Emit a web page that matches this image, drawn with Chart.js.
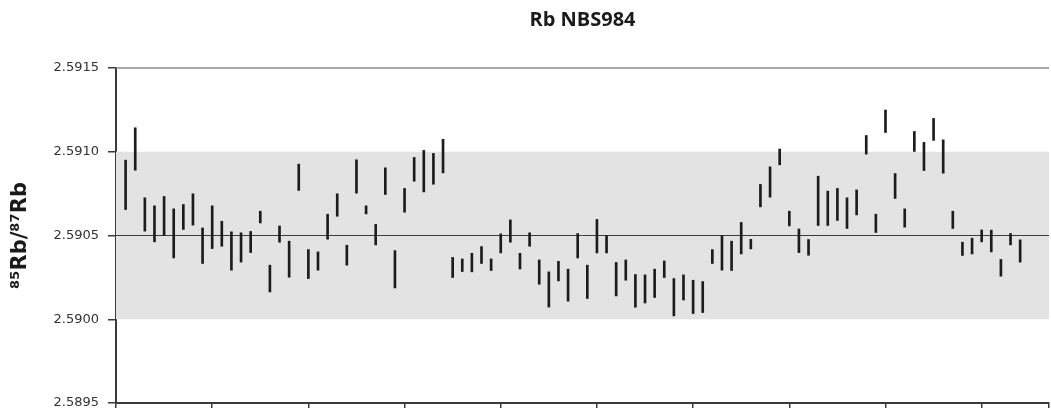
<!DOCTYPE html>
<html>
<head>
<meta charset="utf-8">
<script src="https://cdn.jsdelivr.net/npm/chart.js@4"></script>
<style>
  body { margin: 0; background: #fff; }
  canvas { display: block; }
</style>
</head>
<body>
<canvas id="ratioChart" width="1051" height="408"></canvas>
<script>
// 85Rb/87Rb measurements, each run drawn as a lower..upper error bar
var lows = [
    2.590655, 2.590890, 2.590526, 2.590462, 2.590502, 2.590366, 2.590536, 2.590562, 2.590333, 2.590422,
    2.590436, 2.590293, 2.590341, 2.590398, 2.590575, 2.590163, 2.590460, 2.590251, 2.590769, 2.590243,
    2.590293, 2.590478, 2.590615, 2.590323, 2.590753, 2.590629, 2.590444, 2.590745, 2.590187, 2.590639,
    2.590824, 2.590760, 2.590806, 2.590874, 2.590249, 2.590285, 2.590283, 2.590333, 2.590291, 2.590396,
    2.590460, 2.590300, 2.590436, 2.590209, 2.590073, 2.590229, 2.590108, 2.590366, 2.590124, 2.590396,
    2.590396, 2.590139, 2.590233, 2.590072, 2.590097, 2.590130, 2.590249, 2.590020, 2.590115, 2.590034,
    2.590040, 2.590333, 2.590293, 2.590291, 2.590390, 2.590420, 2.590671, 2.590729, 2.590922, 2.590557,
    2.590398, 2.590382, 2.590560, 2.590560, 2.590590, 2.590542, 2.590623, 2.590986, 2.590518, 2.591115,
    2.590721, 2.590550, 2.591002, 2.590888, 2.591068, 2.590872, 2.590542, 2.590381, 2.590390, 2.590462,
    2.590402, 2.590257, 2.590444, 2.590341
];
var highs = [
    2.590950, 2.591143, 2.590725, 2.590677, 2.590733, 2.590659, 2.590685, 2.590749, 2.590545, 2.590677,
    2.590585, 2.590522, 2.590516, 2.590524, 2.590645, 2.590323, 2.590557, 2.590466, 2.590926, 2.590416,
    2.590402, 2.590627, 2.590749, 2.590442, 2.590952, 2.590677, 2.590566, 2.590904, 2.590410, 2.590781,
    2.590966, 2.591008, 2.590990, 2.591074, 2.590369, 2.590360, 2.590394, 2.590434, 2.590360, 2.590510,
    2.590593, 2.590394, 2.590516, 2.590354, 2.590283, 2.590346, 2.590299, 2.590512, 2.590323, 2.590596,
    2.590500, 2.590339, 2.590354, 2.590267, 2.590265, 2.590299, 2.590348, 2.590243, 2.590265, 2.590233,
    2.590225, 2.590416, 2.590500, 2.590466, 2.590578, 2.590477, 2.590805, 2.590910, 2.591016, 2.590645,
    2.590539, 2.590476, 2.590854, 2.590765, 2.590781, 2.590725, 2.590772, 2.591097, 2.590627, 2.591249,
    2.590870, 2.590659, 2.591121, 2.591056, 2.591199, 2.591071, 2.590645, 2.590460, 2.590484, 2.590533,
    2.590532, 2.590357, 2.590512, 2.590474
];

// reference value and its tolerance band
var refValue = 2.5905;
var bandLow = 2.5900;
var bandHigh = 2.5910;
var yMin = 2.5895;
var yMax = 2.5915;
var xMin = 0;
var xMax = 97;

var bandPlugin = {
    id: 'band',
    beforeDatasetsDraw: function(chart) {
        const ctx = chart.ctx;
        const area = chart.chartArea;
        const y = chart.scales.y;
        const top = y.getPixelForValue(bandHigh);
        const bottom = y.getPixelForValue(bandLow);
        ctx.save();
        ctx.fillStyle = '#e3e3e3';
        ctx.fillRect(area.left, top, area.right - area.left, bottom - top);

        // frame line along the top value
        const yTop = y.getPixelForValue(yMax);
        ctx.strokeStyle = '#8a8a8a';
        ctx.lineWidth = 1.5;
        ctx.beginPath();
        ctx.moveTo(area.left, yTop);
        ctx.lineTo(area.right, yTop);
        ctx.stroke();

        // reference line
        const yRef = y.getPixelForValue(refValue);
        ctx.strokeStyle = '#3c3c3c';
        ctx.lineWidth = 1;
        ctx.beginPath();
        ctx.moveTo(area.left, yRef);
        ctx.lineTo(area.right, yRef);
        ctx.stroke();
        ctx.restore();
    }
};

var points = lows.map((lo, i) => ({ x: i + 1, y: [lo, highs[i]] }));

new Chart(document.getElementById('ratioChart').getContext('2d'), {
    type: 'bar',
    data: {
        datasets: [{
            data: points,
            backgroundColor: '#1c1c1c',
            borderWidth: 0,
            barThickness: 2
        }]
    },
    options: {
        responsive: false,
        animation: false,
        layout: { padding: { left: 0, right: 2, top: 0, bottom: 0 } },
        plugins: {
            legend: { display: false },
            tooltip: { enabled: false },
            title: {
                display: true,
                text: 'Rb NBS984',
                fullSize: false,
                color: '#1a1a1a',
                font: { family: 'Open Sans', weight: 'bold', size: 20 },
                padding: { top: 8, bottom: 36 }
            }
        },
        scales: {
            x: {
                type: 'linear',
                min: xMin,
                max: xMax,
                offset: false,
                ticks: { display: false, stepSize: 10 },
                grid: {
                    offset: false,
                    drawOnChartArea: false,
                    drawTicks: true,
                    tickLength: 6,
                    color: '#3a3a3a',
                    lineWidth: 1.5
                },
                border: { color: '#3a3a3a', width: 2 },
                afterFit: function(scale) {
                    scale.height = 5;
                }
            },
            y: {
                min: yMin,
                max: yMax,
                ticks: {
                    stepSize: 0.0005,
                    padding: 9,
                    color: '#333',
                    font: { family: 'DejaVu Sans', size: 13 },
                    callback: v => v.toFixed(4)
                },
                grid: {
                    drawOnChartArea: false,
                    drawTicks: true,
                    tickLength: 8,
                    color: '#3a3a3a',
                    lineWidth: 1.5
                },
                border: { color: '#3a3a3a', width: 2 },
                title: {
                    display: true,
                    text: '⁸⁵Rb/⁸⁷Rb',
                    color: '#1a1a1a',
                    font: { family: 'DejaVu Sans', weight: 'bold', size: 21 },
                    padding: { top: 8, bottom: 0 }
                },
                afterFit: function(scale) {
                    // fixed axis width; the end labels may run past the plot edges
                    scale.width = 116;
                    scale.paddingTop = 0;
                    scale.paddingBottom = 0;
                }
            }
        }
    },
    plugins: [bandPlugin]
});
</script>
</body>
</html>
